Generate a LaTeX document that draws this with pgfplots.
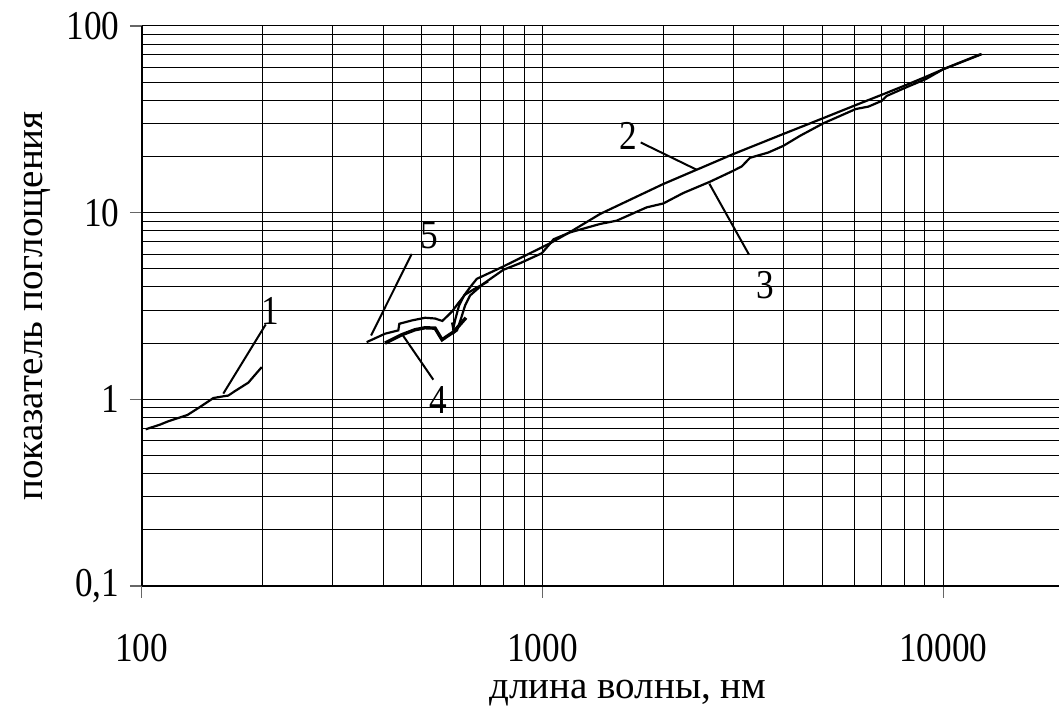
\documentclass[border=0pt]{standalone}
\usepackage{fontspec}
\setmainfont{Liberation Serif}
\usepackage{graphicx}
\usepackage{pgfplots}
\pgfplotsset{compat=1.18}

% digits in the figure are set slightly condensed
\newcommand{\nr}[1]{\scalebox{0.86}[1]{#1}}

\begin{document}
\begin{tikzpicture}
\begin{axis}[
  name=main,
  scale only axis,
  width=458.65pt, height=280pt,
  xmode=log, ymode=log,
  xmin=100, xmax=19440, ymin=0.1, ymax=100,
  axis lines*=left,
  xtick={100,1000,10000}, xticklabels={\nr{100},\nr{1000},\nr{10000}},
  ytick={0.1,1,10,100}, yticklabels={\nr{0,1},\nr{1},\nr{10},\nr{100}},
  grid=both,
  major grid style={black, line width=0.5pt},
  minor grid style={black, line width=0.5pt},
  tick align=outside,
  major tick length=6pt,
  minor tick length=0pt,
  tick style={black!60, line width=0.6pt},
  axis line style={black, line width=0.8pt},
  ticklabel style={font=\fontsize{20.5}{23}\selectfont, inner sep=0pt},
  xticklabel style={anchor=center, yshift=-25pt},
  yticklabel style={anchor=east, xshift=-5pt},
  clip=false,
]
% curve 1
\addplot[black, line width=1.1pt] coordinates {
  (102.3,0.691) (111.1,0.732) (116.5,0.763) (130,0.824) (139.8,0.910)
  (150.9,1.016) (159.8,1.038) (164.4,1.047) (171,1.108) (184.5,1.228)
  (190.6,1.332) (199.3,1.488)};
% curve 2
\addplot[black, line width=1.1pt] coordinates {
  (597.8,2.34) (604.9,2.645) (619.2,3.18) (637.2,3.6) (659.6,3.985)
  (685.5,4.42) (791.1,5.1) (895.8,5.82) (1044,6.85) (1171,7.87)
  (1392,9.84) (2001,14.24) (2992,20.6) (3990,26.4) (5018,32.1)
  (6045,37.7) (7021,42.8) (8058,48.2) (9037,53.4) (10000,58.7)
  (12417,70.8)};
% curve 3
\addplot[black, line width=1.1pt] coordinates {
  (594.7,2.58) (601.6,2.28) (612,2.34) (626.2,2.71) (640.9,3.18)
  (659.6,3.6) (711.8,4.157) (798.4,4.94) (878.8,5.36) (995.5,6.06)
  (1040,6.75) (1065,7.2) (1171,7.84) (1392,8.7) (1531,9.06) (1820,10.68)
  (2001,11.2) (2246,12.75) (2618,14.65) (2992,16.77) (3141,17.69)
  (3294,19.68) (3659,21.0) (3990,22.8) (4390,25.8) (5018,30.1)
  (6045,35.9) (6502,37.0) (7021,39.7) (7225,42.2) (8058,46.8)
  (9037,51.9) (10000,58.7) (12468,70.6)};
% curve 4
\addplot[black, line width=1.7pt] coordinates {
  (404.6,2.00) (445.5,2.218) (480.8,2.36) (509.3,2.418) (539.4,2.406)
  (561.5,2.085) (576.8,2.17) (599,2.29) (644.3,2.735)};
% curve 5
\addplot[black, line width=1.1pt] coordinates {
  (364.2,2.025) (404.6,2.246) (436.7,2.34) (439.3,2.54) (471.8,2.645)
  (509.3,2.735) (539.4,2.71) (562.3,2.63) (577.8,2.78) (594.7,2.955)
  (615.5,3.26) (640.9,3.64) (678.7,3.92) (731.1,4.276)};

% leaders and curve numbers
\draw[line width=1pt] (axis cs:159.8,1.073) -- (axis cs:203.9,2.518);
\draw[line width=1pt] (axis cs:1758,23.77) -- (axis cs:2425,16.98);
\draw[line width=1pt] (axis cs:2608,14.29) -- (axis cs:3275,5.96);
\draw[line width=1pt] (axis cs:445.5,2.246) -- (axis cs:534,1.274);
\draw[line width=1pt] (axis cs:373.5,2.2) -- (axis cs:471.8,6.01);
\begin{scope}[every node/.style={font=\fontsize{20.5}{23}\selectfont, inner sep=0pt}]
\node at (axis cs:208.9,2.99) {\nr{1}};
\node at (axis cs:1634,25.8) {\nr{2}};
\node at (axis cs:3590,4.07) {\nr{3}};
\node at (axis cs:549.6,0.988) {\nr{4}};
\node at (axis cs:521,7.54) {\nr{5}};
\end{scope}
\end{axis}
\node[rotate=90, font=\fontsize{19.5}{22}\selectfont] at ([xshift=-52pt]main.west) {показатель поглощения};
\node[font=\fontsize{19.5}{22}\selectfont] at ([shift={(243.15pt,-53.5pt)}]main.south west) {длина волны, нм};
\pgfresetboundingbox
\path ([shift={(-70.85pt,-61pt)}]main.south west) rectangle ([shift={(0pt,13pt)}]main.north east);
\end{tikzpicture}
\end{document}
